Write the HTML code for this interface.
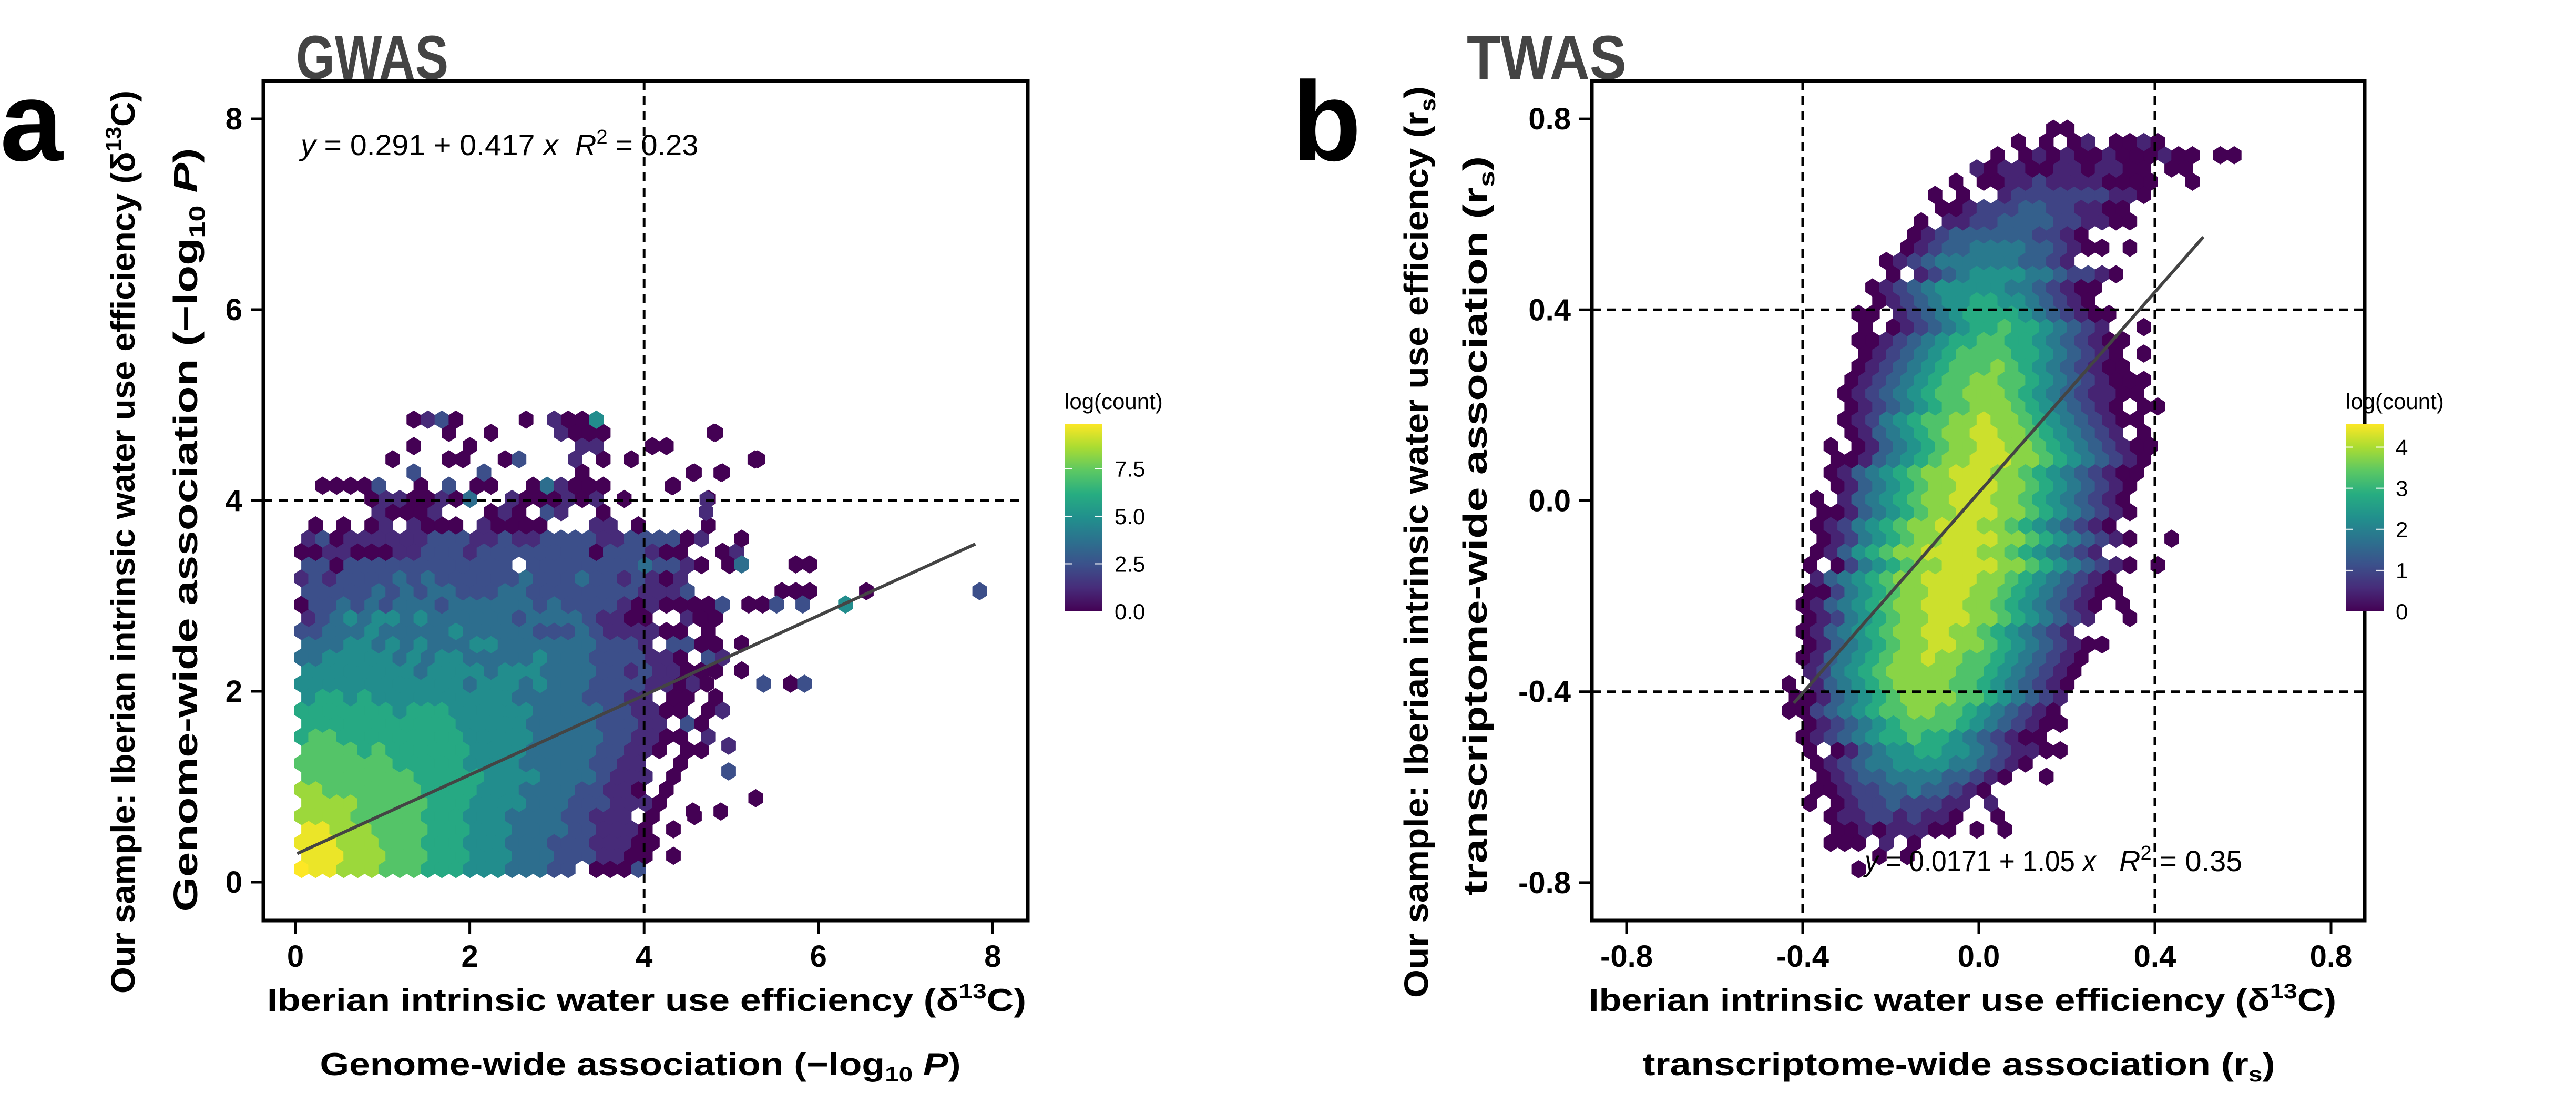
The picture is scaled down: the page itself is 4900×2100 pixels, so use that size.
<!DOCTYPE html>
<html><head><meta charset="utf-8"><style>
html,body{margin:0;padding:0;background:#fff}
svg{display:block}
text{font-family:"Liberation Sans",Arial,sans-serif}
</style></head><body>
<svg id="fig" width="4900" height="2100" viewBox="0 0 4900 2100" xmlns="http://www.w3.org/2000/svg">
<defs>
<linearGradient id="vir" x1="0" y1="1" x2="0" y2="0">
<stop offset="0" stop-color="#440154"/><stop offset="0.125" stop-color="#472c7a"/><stop offset="0.25" stop-color="#3b518b"/><stop offset="0.375" stop-color="#2c718e"/><stop offset="0.5" stop-color="#21908d"/><stop offset="0.625" stop-color="#27ad81"/><stop offset="0.75" stop-color="#5cc863"/><stop offset="0.875" stop-color="#aadc32"/><stop offset="1" stop-color="#fde725"/>
</linearGradient>
</defs>
<g id="panelA">
<text x="0" y="305" font-size="215" font-weight="bold">a</text>
<text x="563" y="150" font-size="118" font-weight="bold" fill="#444" textLength="290" lengthAdjust="spacingAndGlyphs">GWAS</text>
<g id="hexA"></g>
<g id="axA"></g>
<g>
<text x="572" y="295" font-size="56" textLength="490" lengthAdjust="spacingAndGlyphs"><tspan font-style="italic">y</tspan> = 0.291 + 0.417 <tspan font-style="italic">x</tspan></text>
<text x="1094" y="295" font-size="56"><tspan font-style="italic">R</tspan><tspan dy="-22" font-size="38">2</tspan><tspan dy="22"> = 0.23</tspan></text>
</g>
<text x="1230" y="1923" font-size="60" font-weight="bold" text-anchor="middle" textLength="1444" lengthAdjust="spacingAndGlyphs">Iberian intrinsic water use efficiency (δ<tspan dy="-24" font-size="40">13</tspan><tspan dy="24">C)</tspan></text>
<text x="1218" y="2045" font-size="60" font-weight="bold" text-anchor="middle" textLength="1219" lengthAdjust="spacingAndGlyphs">Genome-wide association (−log<tspan dy="12" font-size="40">10</tspan><tspan dy="-12" font-style="italic"> P</tspan>)</text>
<text transform="translate(256,1031) rotate(-90)" font-size="64" font-weight="bold" text-anchor="middle" textLength="1718" lengthAdjust="spacingAndGlyphs">Our sample: Iberian intrinsic water use efficiency (δ<tspan dy="-26" font-size="42">13</tspan><tspan dy="26">C)</tspan></text>
<text transform="translate(375,1008) rotate(-90)" font-size="64" font-weight="bold" text-anchor="middle" textLength="1453" lengthAdjust="spacingAndGlyphs">Genome-wide association (−log<tspan dy="14" font-size="42">10</tspan><tspan dy="-14" font-style="italic"> P</tspan>)</text>
<g>
<text x="2025" y="778" font-size="42">log(count)</text>
<rect x="2025" y="806" width="72" height="357" fill="url(#vir)"/>
<g id="legA"></g>
</g>
</g>
<g id="panelB">
<text x="2458" y="305" font-size="215" font-weight="bold">b</text>
<text x="2790" y="150" font-size="118" font-weight="bold" fill="#444" textLength="304" lengthAdjust="spacingAndGlyphs">TWAS</text>
<g id="hexB"></g>
<g id="axB"></g>
<g>
<text x="3547" y="1657" font-size="56" textLength="440" lengthAdjust="spacingAndGlyphs"><tspan font-style="italic">y</tspan> = 0.0171 + 1.05 <tspan font-style="italic">x</tspan></text>
<text x="4031" y="1657" font-size="56"><tspan font-style="italic">R</tspan><tspan dy="-22" font-size="38">2</tspan><tspan dy="22"> = 0.35</tspan></text>
</g>
<text x="3733" y="1923" font-size="60" font-weight="bold" text-anchor="middle" textLength="1422" lengthAdjust="spacingAndGlyphs">Iberian intrinsic water use efficiency (δ<tspan dy="-24" font-size="40">13</tspan><tspan dy="24">C)</tspan></text>
<text x="3726" y="2045" font-size="60" font-weight="bold" text-anchor="middle" textLength="1203" lengthAdjust="spacingAndGlyphs">transcriptome-wide association (r<tspan dy="12" font-size="40">s</tspan><tspan dy="-12">)</tspan></text>
<text transform="translate(2716,1031) rotate(-90)" font-size="64" font-weight="bold" text-anchor="middle" textLength="1734" lengthAdjust="spacingAndGlyphs">Our sample: Iberian intrinsic water use efficiency (r<tspan dy="14" font-size="42">s</tspan><tspan dy="-14">)</tspan></text>
<text transform="translate(2828,1000) rotate(-90)" font-size="64" font-weight="bold" text-anchor="middle" textLength="1406" lengthAdjust="spacingAndGlyphs">transcriptome-wide association (r<tspan dy="14" font-size="42">s</tspan><tspan dy="-14">)</tspan></text>
<g>
<text x="4462" y="778" font-size="42">log(count)</text>
<rect x="4462" y="806" width="72" height="357" fill="url(#vir)"/>
<g id="legB"></g>
</g>
</g>
</svg>
<script>
// ---------- GWAS data ----------
const gwasXTicks = [0, 2, 4, 6, 8];
const gwasYTicks = [0, 2, 4, 6, 8];
const gwasLegendTicks = ["0.0", "2.5", "5.0", "7.5"];
const gwasLegendValues = [0, 2.5, 5, 7.5];
const gwasLegendMax = 9.86;
const gwasBin = [0.07, 0.138, 0.161, 0.1385]; // x0, y0, dx, dy (data units)
// rows bottom -> top, each char = log(count) level, '.' = empty
const gwasRows = [
"98877766655544433322.0002",
"8887776665554443332221100.0",
"88877766655544433322211100",
"8877766665554443333221110.0",
"777766666555444333322111.0..0",
"77776666655544443332221110",
"7766666665555444333322110.0",
"6666666655555444433332111.0",
"6666666555554444333332211..0",
"66665655555544443333322110.00",
"5665555555554444433333221100.1",
"55555555555444443333322211.20",
"5555555455544444433333221100.01",
"4554544444444443333322211.00.0",
"44444444444434443433322221100",
"444444443444434443333221211000",
"3344444343443333343332222110.21",
"3334434343334433333332221.2200",
"2233343333343333322232111100.0",
"1234344343333332333321100..100",
"0223232333233333323222210100002",
"2222232323322233222222221112",
"1212222323222222322232212101",
"220222222222222.2222222232210.0",
"0011000112221222222220222100..01",
"12011111122211211222211222201",
".0.0.01.1000.10000...11.0....0",
".....10001...010.21..0",
".....01100103..1000101.0.....0",
".00002..0.2.00..031000....0",
"........2....2......0.......0.0",
"......0...00..02...1.0.0........0",
"........0...0.......11...00",
"..........0..0....1000.......0",
"........0120....0.1004"
];
const gwasOutX = [4.80,5.27,4.56,4.88,4.32,4.72,5.12,4.71,4.97,5.12,5.74,5.90,5.58,5.74,5.90,6.55,5.82,6.31,7.85,5.20,5.36,5.52,4.64,4.80,5.12,5.12,5.37,5.68,5.84,4.56,4.72,4.97,4.97,5.28,4.56,4.88];
const gwasOutY = [4.71,4.43,4.29,4.29,4.15,4.01,3.60,3.88,3.33,3.33,3.33,3.33,3.05,3.05,3.05,3.05,2.91,2.91,3.05,2.91,2.91,2.91,2.77,2.50,2.50,2.22,2.08,2.08,2.08,2.08,2.08,1.43,1.16,0.88,0.74,0.74];
const gwasOutLvl = [0,0,0,0,0,1,0,1,0,3,0,0,0,0,0,0,2,4,2,0,0,2,0,0,0,0,2,0,2,1,0,1,2,0,0,0];
const gwasLevelScale = 1.2;
const gwasFit = [0.291, 0.417];
const gwasFitRange = [0.02, 7.8];
const gwasRef = [4, 4];

// ---------- TWAS data ----------
const twasXTicks = [-0.8, -0.4, 0.0, 0.4, 0.8];
const twasXLabels = ["-0.8", "-0.4", "0.0", "0.4", "0.8"];
const twasYTicks = [-0.8, -0.4, 0.0, 0.4, 0.8];
const twasYLabels = ["-0.8", "-0.4", "0.0", "0.4", "0.8"];
const twasLegendTicks = ["0", "1", "2", "3", "4"];
const twasLegendValues = [0, 1, 2, 3, 4];
const twasLegendMax = 4.57;
const twasBin = [-0.431, -0.772, 0.0316, 0.0277];
const twasStart = [5,6,3,3,3,1,2,2,2,1,1,1,0,0,0,1,1,1,1,1,1,1,2,1,2,2,2,2,2,3,3,3,3,4,4,4,4,4,5,5,5,5,5,6,6,7,7,8,9,9,11,10,12,13,15,16,19];
const twasRows = [
"0",
"0.0",
"000.1.0",
"001011100.0.0",
"0112212110..0",
"0.0122322211.1",
"0012233433210",
"01233444433210..0",
"0123445555443210",
"0.01345566554321100",
"012345667665432100",
"0123456777765432100",
"00234567788776543210",
"00134567888877654321",
"0.1345678888776543210",
"12456788888776543210",
"013456788988776543210",
"0134567889988765432100",
"01345678899887654321",
"012456788999887654321..0",
"0134567889998876543210.0",
"00245678899988765432100",
"1345678899998876543210",
"0.0245678899998876543210.0",
"013567889999887654321",
"01245678899998876543210..0",
"0124567889998876543210",
"00134567889998876543210",
"0.134567889998876543210",
"0134567889998876543210",
"01345678899988765432100",
"00134567889998876543210",
"0.0134567889988765432100",
"01345678899887654321.0",
"0124567788988765432100",
"01234567788876543210.00",
"0123456778887654321100",
"0123456778877654321000",
"01234567778765432100",
"0123456777766543210.0",
"00123456677665432100",
"0.0123456676654321..0",
"00.1234566665432100",
"0123455665543210",
"01234555554432100",
"0.123455554432210",
"01234444443321",
"012334444332100.0",
"0123333332210",
"0.11223333221100",
"00122233221100",
"0.0..12222222110",
"0.0011211110000..0",
"1011001101100.00",
"0.0101001000100.00",
"0.0.01.0010",
"00"
];
const twasLevelScale = 0.47;
const twasFit = [0.0171, 1.05];
const twasFitRange = [-0.42, 0.51];
const twasRefX = [-0.4, 0.4];
const twasRefY = [-0.4, 0.4];

// ---------- helpers ----------
const NS = "http://www.w3.org/2000/svg";
const VIR = ["#440154","#472c7a","#3b518b","#2c718e","#21908d","#27ad81","#5cc863","#aadc32","#fde725"];
function hx(c){return [parseInt(c.slice(1,3),16),parseInt(c.slice(3,5),16),parseInt(c.slice(5,7),16)];}
function viridis(t){
  t=Math.max(0,Math.min(1,t));
  const p=t*(VIR.length-1), i=Math.min(VIR.length-2,Math.floor(p)), f=p-i;
  const a=hx(VIR[i]), b=hx(VIR[i+1]);
  return "rgb("+a.map((v,k)=>Math.round(v+(b[k]-v)*f)).join(",")+")";
}
function mk(tag, attrs, parent){
  const e=document.createElementNS(NS,tag);
  for(const k in attrs) e.setAttribute(k,attrs[k]);
  parent.appendChild(e); return e;
}
function hexPts(cx,cy,hw,hr){
  return [[cx,cy-hr],[cx+hw,cy-hr/2],[cx+hw,cy+hr/2],[cx,cy+hr],[cx-hw,cy+hr/2],[cx-hw,cy-hr/2]].map(p=>p[0].toFixed(1)+","+p[1].toFixed(1)).join(" ");
}

// axis functions
const xa = v => 562 + v*165.8;
const ya = v => 1678 - v*181.5;
const xb = v => 3764 + v*837.5;
const yb = v => 952.5 - v*908;

function drawPanel(opt){
  const hg=document.getElementById(opt.hexId), ag=document.getElementById(opt.axId);
  const [x0,y0,dx,dy]=opt.bin;
  const hw=Math.abs(opt.xf(dx)-opt.xf(0))/2*1.04;
  const hr=Math.abs(opt.yf(dy)-opt.yf(0))/1.5*1.04;
  opt.rows.forEach((row,r)=>{
    const st=opt.start?opt.start[r]:0;
    for(let i=0;i<row.length;i++){
      const ch=row[i]; if(ch==='.'||ch===' ') continue;
      const c=st+i;
      const xv=x0+c*dx+(r%2?dx/2:0), yv=y0+r*dy;
      const p=mk("polygon",{points:hexPts(opt.xf(xv),opt.yf(yv),hw,hr),fill:viridis(+ch*opt.scale/opt.max)},hg);
      
      
    }
  });
  if(opt.outX){
    opt.outX.forEach((xv,i)=>{
      const p=mk("polygon",{points:hexPts(opt.xf(xv),opt.yf(opt.outY[i]),hw,hr),fill:viridis(opt.outL[i]*opt.scale/opt.max)},hg);
      
      
    });
  }
  opt.refX.forEach(v=>{
    const l=mk("line",{x1:opt.xf(v),x2:opt.xf(v),y1:opt.box[1],y2:opt.box[3],stroke:"#000","stroke-width":5,"stroke-dasharray":"17 12"},ag);
    
    
  });
  opt.refY.forEach(v=>{
    const l=mk("line",{x1:opt.box[0],x2:opt.box[2],y1:opt.yf(v),y2:opt.yf(v),stroke:"#000","stroke-width":5,"stroke-dasharray":"17 12"},ag);
    
    
  });
  const f=opt.fit, fr=opt.fitRange;
  const fl=mk("line",{x1:opt.xf(fr[0]),y1:opt.yf(f[0]+f[1]*fr[0]),x2:opt.xf(fr[1]),y2:opt.yf(f[0]+f[1]*fr[1]),stroke:"#444","stroke-width":6},ag);
  
  
  const b=opt.box;
  const bx=mk("rect",{x:b[0],y:b[1],width:b[2]-b[0],height:b[3]-b[1],fill:"none",stroke:"#000","stroke-width":7},ag);
  
  
  opt.xTicks.forEach((v,i)=>{
    const x=opt.xf(v);
    const t=mk("line",{x1:x,x2:x,y1:b[3],y2:b[3]+26,stroke:"#000","stroke-width":5},ag);
    
    
    const tx=mk("text",{x:x,y:b[3]+88,"font-size":58,"font-weight":"bold","text-anchor":"middle"},ag);
    tx.textContent=opt.xLabels[i];
    
    
  });
  opt.yTicks.forEach((v,i)=>{
    const y=opt.yf(v);
    const t=mk("line",{x1:b[0]-24,x2:b[0],y1:y,y2:y,stroke:"#000","stroke-width":5},ag);
    
    
    const tx=mk("text",{x:b[0]-40,y:y+20,"font-size":58,"font-weight":"bold","text-anchor":"end"},ag);
    tx.textContent=opt.yLabels[i];
    
    
  });
  const lg=document.getElementById(opt.legId);
  const lx=opt.legX, top=806, bot=1163;
  opt.legVals.forEach((v,i)=>{
    const y=bot-(bot-top)*v/opt.legMax;
    const t1=mk("line",{x1:lx,x2:lx+14,y1:y,y2:y,stroke:"#fff","stroke-width":2},lg);
    
    
    const t2=mk("line",{x1:lx+58,x2:lx+72,y1:y,y2:y,stroke:"#fff","stroke-width":2},lg);
    
    
    const tx=mk("text",{x:lx+95,y:y+15,"font-size":42},lg);
    tx.textContent=opt.legLabels[i];
    
    
  });
}

drawPanel({hexId:"hexA",axId:"axA",legId:"legA",xf:xa,yf:ya,bin:gwasBin,rows:gwasRows,start:null,
  scale:gwasLevelScale,max:gwasLegendMax,outX:gwasOutX,outY:gwasOutY,outL:gwasOutLvl,
  refX:[gwasRef[0]],refY:[gwasRef[1]],fit:gwasFit,fitRange:gwasFitRange,box:[501,154,1955,1751],
  xTicks:gwasXTicks,xLabels:gwasXTicks.map(String),yTicks:gwasYTicks,yLabels:gwasYTicks.map(String),
  legX:2025,legVals:gwasLegendValues,legLabels:gwasLegendTicks,legMax:gwasLegendMax});

drawPanel({hexId:"hexB",axId:"axB",legId:"legB",xf:xb,yf:yb,bin:twasBin,rows:twasRows,start:twasStart,
  scale:twasLevelScale,max:twasLegendMax,outX:null,
  refX:twasRefX,refY:twasRefY,fit:twasFit,fitRange:twasFitRange,box:[3028,154,4498,1751],
  xTicks:twasXTicks,xLabels:twasXLabels,yTicks:twasYTicks,yLabels:twasYLabels,
  legX:4462,legVals:twasLegendValues,legLabels:twasLegendTicks,legMax:twasLegendMax});
</script>
</body></html>
